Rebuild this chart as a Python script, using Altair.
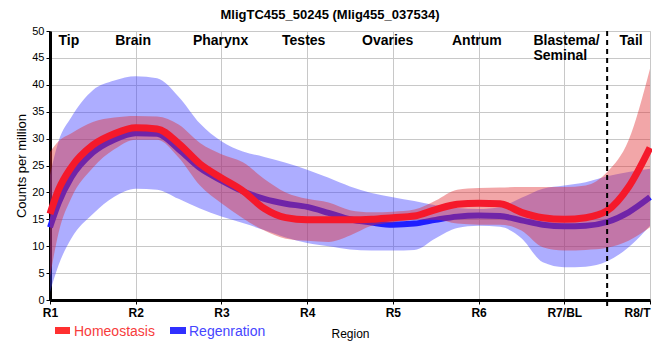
import json
import altair as alt
import pandas as pd

# ---------------- data ----------------
X = [0, 0.1, 0.25, 0.5, 0.75, 1, 1.25, 1.5, 1.75, 2, 2.25, 2.5, 2.75, 3, 3.25,
     3.5, 3.75, 4, 4.25, 4.5, 4.75, 5, 5.25, 5.5, 5.75, 6, 6.25, 6.5, 6.75, 7]

HOMEO_MEAN = [16.0, 20.5, 24.7, 28.8, 30.9, 32.0, 31.8, 29.1, 25.3, 22.7, 20.3,
              17.0, 15.3, 14.9, 14.9, 14.9, 15.0, 15.3, 15.6, 16.8, 17.8, 18.0,
              17.9, 16.3, 15.3, 15.0, 15.3, 16.6, 21.0, 28.3]
HOMEO_LO = [4.3, 12.5, 19.0, 24.6, 28.0, 29.8, 29.8, 26.5, 21.3, 18.0, 15.2,
            12.9, 11.4, 11.0, 10.8, 12.0, 13.8, 14.4, 14.9, 14.9, 14.2, 14.0,
            14.0, 12.9, 9.8, 9.2, 9.3, 9.7, 11.0, 13.5]
HOMEO_HI = [27.5, 29.5, 31.0, 33.1, 33.9, 34.2, 34.1, 32.6, 29.2, 27.1, 25.6,
            22.5, 20.0, 18.8, 18.1, 16.7, 16.3, 16.4, 16.8, 18.5, 20.5, 20.8,
            20.9, 21.0, 21.0, 21.0, 21.3, 23.8, 29.7, 43.0]

REGEN_MEAN = [13.5, 18.0, 22.8, 27.4, 29.8, 31.0, 30.9, 28.0, 24.5, 22.2, 20.2,
              18.8, 17.9, 17.3, 16.2, 15.0, 14.4, 14.0, 14.2, 14.9, 15.5, 15.7,
              15.6, 14.8, 14.0, 13.7, 13.8, 14.5, 16.3, 19.1]
REGEN_LO = [1.5, 6.5, 11.5, 16.0, 19.2, 20.7, 20.5, 18.8, 17.0, 15.5, 14.3,
            13.0, 11.6, 10.6, 10.0, 9.4, 9.2, 9.2, 9.3, 11.5, 13.4, 13.8,
            13.6, 11.5, 7.0, 6.1, 6.2, 7.2, 9.8, 13.8]
REGEN_HI = [23.2, 29.5, 34.0, 39.0, 40.8, 41.6, 41.2, 37.8, 32.8, 29.5, 27.6,
            26.6, 25.5, 24.2, 22.7, 21.1, 19.9, 19.1, 18.4, 17.6, 17.1, 16.9,
            17.3, 19.0, 20.7, 21.3, 21.9, 23.0, 23.8, 24.4]

TICK_VALUES = [0, 1, 2, 3, 4, 5, 6, 7]
TICK_LABELS = ["R1", "R2", "R3", "R4", "R5", "R6", "R7/BL", "R8/T"]
Y_TICKS = [0, 5, 10, 15, 20, 25, 30, 35, 40, 45, 50]

REGION_NAMES = ["Tip", "Brain", "Pharynx", "Testes", "Ovaries", "Antrum", "Tail"]
REGION_POS = [0.22, 0.97, 1.99, 2.96, 3.94, 4.98, 6.78]
BLASTEMA_NAME = ["Blastema/\nSeminal"]
BLASTEMA_POS = [5.64]
DIVIDER_POS = [6.5]

SERIES = ["Homeostasis", "Regenration"]
TITLE = ["MligTC455_50245 (Mlig455_037534)"]

# ---------------- styling ----------------
FONT = "Liberation Sans"
W, H = 600, 269
RED_LINE, RED_BAND = "#f5192b", "#e02a30"
BLUE_LINE, BLUE_BAND = "#2020ff", "#3c3cff"

homeo = pd.DataFrame({"x": X, "mean": HOMEO_MEAN, "lo": HOMEO_LO, "hi": HOMEO_HI})
regen = pd.DataFrame({"x": X, "mean": REGEN_MEAN, "lo": REGEN_LO, "hi": REGEN_HI})

label_expr = json.dumps(TICK_LABELS) + "[datum.value]"
x_scale = alt.Scale(domain=[0, 7], nice=False, zero=False)
y_scale = alt.Scale(domain=[0, 50], nice=False)

last_tick = TICK_VALUES[-1]
x_axis = alt.Axis(values=TICK_VALUES, labelExpr=label_expr, labelFlush=False,
                  labelAlign={"condition": {"test": f"datum.value == {last_tick}",
                                            "value": "right"},
                              "value": "center"},
                  labelOverlap=False, labelFont=FONT, labelFontSize=12,
                  labelFontWeight="bold", labelColor="black", labelPadding=3,
                  tickSize=4, tickColor="black", domainColor="black",
                  domainWidth=3, gridColor="#c8c8c8", title="Region",
                  titleFont=FONT, titleFontSize=12, titleFontWeight="normal",
                  titleColor="black", titleBaseline="alphabetic", titleY=37)
y_axis = alt.Axis(values=Y_TICKS, labelFont=FONT, labelFontSize=11,
                  labelColor="black", labelPadding=2, tickSize=4,
                  tickColor="black", domainColor="black", domainWidth=3,
                  gridColor="#c8c8c8", title="Counts per million",
                  titleFont=FONT, titleFontSize=13, titleFontWeight="normal",
                  titleColor="black", titleAngle=270, titleAlign="center",
                  titleBaseline="alphabetic", titleX=-25, titleY=H / 2)

xe = alt.X("x:Q", scale=x_scale, axis=x_axis)


def band(df, color):
    return alt.Chart(df).mark_area(color=color, opacity=0.42,
                                   interpolate="monotone").encode(
        x=xe,
        y=alt.Y("lo:Q", scale=y_scale, axis=y_axis),
        y2="hi:Q")


def line(df, color, width):
    return alt.Chart(df).mark_line(color=color, strokeWidth=width,
                                   interpolate="monotone",
                                   strokeCap="butt").encode(
        x=xe,
        y=alt.Y("mean:Q", scale=y_scale, axis=y_axis))


divider = alt.Chart(pd.DataFrame({"x": DIVIDER_POS})).mark_rule(
    color="black", strokeWidth=2, strokeDash=[5, 4]).encode(
    x=xe, y=alt.value(0), y2=alt.value(H + 6))

region_text = alt.Chart(pd.DataFrame({"x": REGION_POS, "name": REGION_NAMES})).mark_text(
    font=FONT, fontSize=14, fontWeight="bold", color="black", align="center",
    baseline="alphabetic").encode(x=xe, y=alt.value(14), text="name:N")

blastema_text = alt.Chart(pd.DataFrame({"x": BLASTEMA_POS, "name": BLASTEMA_NAME})).mark_text(
    font=FONT, fontSize=14, fontWeight="bold", color="black", align="left",
    baseline="alphabetic", lineBreak="\n", lineHeight=15).encode(
    x=xe, y=alt.value(14), text="name:N")

title_text = alt.Chart(pd.DataFrame({"t": TITLE})).mark_text(
    font=FONT, fontSize=13, fontWeight="bold", color="black", align="center",
    baseline="alphabetic").encode(x=alt.value(280), y=alt.value(-12), text="t:N")

leg_df_h = pd.DataFrame({"label": [SERIES[0]]})
leg_df_r = pd.DataFrame({"label": [SERIES[1]]})
leg_rect_h = alt.Chart(leg_df_h).mark_rect(color="#ff3030").encode(
    x=alt.value(5), x2=alt.value(20), y=alt.value(296), y2=alt.value(303))
leg_text_h = alt.Chart(leg_df_h).mark_text(
    font=FONT, fontSize=14, color="#f73c3c", align="left",
    baseline="alphabetic").encode(x=alt.value(24), y=alt.value(305), text="label:N")
leg_rect_r = alt.Chart(leg_df_r).mark_rect(color="#3030ff").encode(
    x=alt.value(120), x2=alt.value(136), y=alt.value(296), y2=alt.value(303))
leg_text_r = alt.Chart(leg_df_r).mark_text(
    font=FONT, fontSize=14, color="#4646ff", align="left",
    baseline="alphabetic").encode(x=alt.value(139), y=alt.value(305), text="label:N")

chart = alt.layer(
    band(regen, BLUE_BAND),
    line(regen, BLUE_LINE, 6),
    band(homeo, RED_BAND),
    line(homeo, RED_LINE, 7),
    divider, region_text, blastema_text, title_text,
    leg_rect_h, leg_text_h, leg_rect_r, leg_text_r,
).properties(
    width=W, height=H,
    autosize=alt.AutoSizeParams(type="none"),
    padding={"left": 42, "top": 23, "right": 2, "bottom": 43},
).configure_view(
    stroke="black", strokeWidth=2
).configure(background="white")

chart.save("out.html", embed_options={"renderer": "svg", "actions": False})
